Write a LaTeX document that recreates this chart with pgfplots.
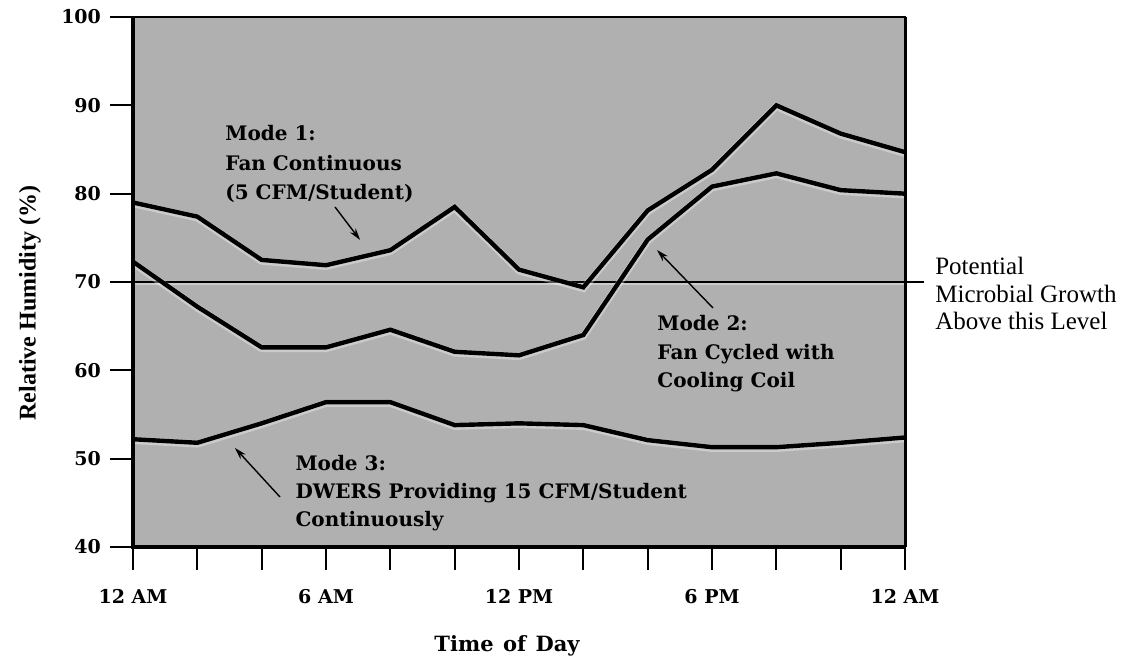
\documentclass[border=0pt]{standalone}
\usepackage{pgfplots}
\pgfplotsset{compat=1.18}
\usepackage{fontspec}
\setmainfont{DejaVu Serif}
\newfontfamily\libserif{Liberation Serif}
\usetikzlibrary{arrows.meta}

\begin{document}
\begin{tikzpicture}
\useasboundingbox (0,0) rectangle (563.5pt,331pt);
\begin{axis}[
  at={(66.5pt,57.5pt)}, anchor=south west,
  scale only axis, width=386pt, height=265pt,
  xmin=0, xmax=24, ymin=40, ymax=100,
  xtick={0,2,...,24},
  xticklabels={12 AM,,,6 AM,,,12 PM,,,6 PM,,,12 AM},
  ytick={40,50,...,100},
  tick align=outside, xtick pos=bottom, ytick pos=left,
  major tick length=11.5pt,
  every tick/.style={black, line width=1.1pt},
  axis line style={line width=1.2pt},
  axis background/.style={fill=black!31},
  clip=false,
  /pgf/number format/assume math mode=true,
  ticklabel style={font=\fontsize{9.5}{11}\selectfont\bfseries},
  xticklabel shift=6pt,
  yticklabel shift=1pt,
  xlabel={Time\hspace{0.45em}of\hspace{0.45em}Day},
  ylabel={Relative Humidity (\%)},
  xlabel style={at={(axis description cs:0.4845,-0.187)}, anchor=center, font=\fontsize{10.5}{12}\selectfont\bfseries},
  ylabel style={at={(axis description cs:-0.1334,0.46)}, anchor=center, font=\libserif\fontsize{12}{13}\selectfont\bfseries},
]
% threshold line
\addplot[white, opacity=0.35, line width=1.6pt, yshift=-0.8pt, forget plot] coordinates {(0,70) (24.6,70)};
\addplot[black, line width=0.9pt] coordinates {(0,70) (24.6,70)};

% Mode 1
\addplot[white, opacity=0.35, line width=3.6pt, yshift=-0.6pt] coordinates {
(0,79.0)(2,77.4)(4,72.5)(6,71.9)(8,73.6)(10,78.5)(12,71.4)(14,69.4)(16,78.1)(18,82.7)(20,90.0)(22,86.8)(24,84.7)};
\addplot[black, line width=2.2pt] coordinates {
(0,79.0)(2,77.4)(4,72.5)(6,71.9)(8,73.6)(10,78.5)(12,71.4)(14,69.4)(16,78.1)(18,82.7)(20,90.0)(22,86.8)(24,84.7)};

% Mode 2
\addplot[white, opacity=0.35, line width=3.6pt, yshift=-0.6pt] coordinates {
(0,72.3)(2,67.2)(4,62.6)(6,62.6)(8,64.6)(10,62.1)(12,61.7)(14,64.0)(16,74.8)(18,80.8)(20,82.3)(22,80.4)(24,80.0)};
\addplot[black, line width=2.2pt] coordinates {
(0,72.3)(2,67.2)(4,62.6)(6,62.6)(8,64.6)(10,62.1)(12,61.7)(14,64.0)(16,74.8)(18,80.8)(20,82.3)(22,80.4)(24,80.0)};

% Mode 3
\addplot[white, opacity=0.35, line width=3.6pt, yshift=-0.6pt] coordinates {
(0,52.2)(2,51.8)(4,54.0)(6,56.4)(8,56.4)(10,53.8)(12,54.0)(14,53.8)(16,52.1)(18,51.3)(20,51.3)(22,51.8)(24,52.4)};
\addplot[black, line width=2.2pt] coordinates {
(0,52.2)(2,51.8)(4,54.0)(6,56.4)(8,56.4)(10,53.8)(12,54.0)(14,53.8)(16,52.1)(18,51.3)(20,51.3)(22,51.8)(24,52.4)};

% frame emphasis
\draw[line width=2.2pt] (rel axis cs:0,1) -- (rel axis cs:0,0) -- (rel axis cs:1,0);
\draw[line width=1.5pt] (rel axis cs:1,0) -- (rel axis cs:1,1);

% annotations
\node[anchor=north west, align=left, inner sep=0pt, font=\fontsize{10}{14.75}\selectfont\bfseries]
  at (axis cs:2.86,87.77) {Mode 1:\\Fan Continuous\\(5 CFM/Student)};
\draw[-{Stealth[length=6pt,width=3.5pt]}, line width=0.7pt] (axis cs:6.28,78.49) -- (axis cs:7.06,74.76);

\node[anchor=north west, align=left, inner sep=0pt, font=\fontsize{10}{14.25}\selectfont\bfseries]
  at (axis cs:16.29,66.26) {Mode 2:\\Fan Cycled with\\Cooling Coil};
\draw[-{Stealth[length=6pt,width=3.5pt]}, line width=0.7pt] (axis cs:18.03,67.06) -- (axis cs:16.29,73.62);

\node[anchor=north west, align=left, inner sep=0pt, font=\fontsize{10}{14}\selectfont\bfseries]
  at (axis cs:5.04,50.42) {Mode 3:\\DWERS Providing 15 CFM/Student\\Continuously};
\draw[-{Stealth[length=6pt,width=3.5pt]}, line width=0.7pt] (axis cs:4.57,45.66) -- (axis cs:3.17,51.21);

\node[anchor=north west, align=left, inner sep=0pt, font=\libserif\fontsize{12.5}{13.75}\selectfont]
  at (axis cs:24.93,72.83) {Potential\\Microbial Growth\\Above this Level};
\end{axis}
\end{tikzpicture}
\end{document}
